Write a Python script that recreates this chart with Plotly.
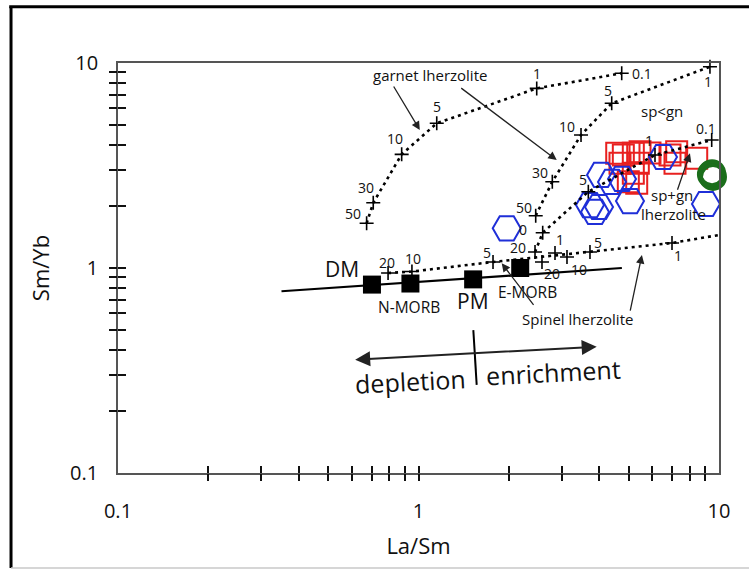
import numpy as np
import plotly.graph_objects as go

FONT = "Open Sans"

# ---------------- data ----------------
axis_tickvals = [0.1, 1, 10]
axis_ticktext = ["0.1", "1", "10"]
log_minor_vals = [0.2, 0.3, 0.4, 0.5, 0.6, 0.7, 0.8, 0.9, 1,
                  2, 3, 4, 5, 6, 7, 8, 9]

reservoir_names = ["DM", "N-MORB", "PM", "E-MORB"]
reservoir_la_sm = [0.70, 0.94, 1.52, 2.18]
reservoir_sm_yb = [0.83, 0.84, 0.88, 1.00]

mantle_array_la_sm = [0.35, 4.75]
mantle_array_sm_yb = [0.77, 1.00]

# garnet lherzolite melting curve (DM source)
gt_dm_la_sm = [0.672, 0.707, 0.879, 1.15, 2.474, 4.745]
gt_dm_sm_yb = [1.652, 2.08, 3.585, 5.08, 7.52, 8.91]
gt_dm_labels = ["50", "30", "10", "5", "1", "0.1"]

# garnet lherzolite melting curve (enriched source, sp<gn)
gt_pm_la_sm = [2.455, 2.788, 3.474, 4.395, 9.33]
gt_pm_sm_yb = [1.799, 2.636, 4.456, 6.36, 9.59]
gt_pm_labels = ["50", "30", "10", "5", "1"]

# sp+gn lherzolite melting curve
spgn_la_sm = [2.442, 2.59, 3.674, 6.124, 9.456]
spgn_sm_yb = [1.197, 1.486, 2.356, 3.557, 4.21]
spgn_labels = ["20", "0", "5", "1", "0.1"]

# spinel lherzolite melting curve
sp_la_sm = [0.792, 0.951, 1.770, 6.976, 10.0]
sp_sm_yb = [0.945, 0.961, 1.070, 1.324, 1.449]
sp_labels = ["20", "10", "5", "1", ""]

# spinel lherzolite (E-MORB source) melt ticks
sp2_la_sm = [2.576, 2.846, 3.12, 3.721]
sp2_sm_yb = [1.070, 1.184, 1.132, 1.197]
sp2_labels = ["20", "1", "10", "5"]

# samples
red_la_sm = [4.804, 4.683, 5.186, 5.46, 5.389, 5.186, 5.323, 4.991,
             6.869, 7.231, 8.43, 7.138, 4.567, 5.893]
red_sm_yb = [3.557, 3.242, 3.626, 3.692, 3.242, 2.897, 2.589, 2.636,
             3.557, 3.692, 3.428, 3.242, 3.626, 3.639]

blue_la_sm = [1.966, 4.049, 4.405, 4.756, 3.721, 3.867, 3.988, 5.056,
              6.51, 9.05]
blue_sm_yb = [1.562, 2.843, 2.628, 2.718, 2.029, 1.876, 1.984, 2.122,
              3.479, 2.052]

green_la_sm = [9.40, 9.55, 9.48]
green_sm_yb = [2.86, 2.78, 2.90]

# ---------------- label offsets (pixels, style only) ----------------
gt_dm_off = [(-14, -10), (-7, -15), (-7, -16), (0, -17), (0, -15), (20, 0)]
gt_pm_off = [(-12, -8), (-12, -9), (-14, -8), (-4, -13), (-2, 15)]
spgn_off = [(-17, -4), (-20, -3), (-5, -12), (-6, -15), (-6, -12)]
sp_off = [(-1, -11), (1, -13), (-6, -9), (6, 12), (0, 0)]
sp2_off = [(10, 12), (5, -13), (12, 13), (8, -9)]

fig = go.Figure()

# empty traces so the overlaid tick axes are drawn
for xa, ya in [("x2", "y"), ("x3", "y"), ("x", "y2"), ("x", "y3")]:
    fig.add_trace(go.Scatter(x=[], y=[], xaxis=xa, yaxis=ya, mode="markers",
                             hoverinfo="skip"))

# samples
fig.add_trace(go.Scatter(x=red_la_sm, y=red_sm_yb, mode="markers",
                         marker=dict(symbol="square-open", size=21, color="#e8201f",
                                     line=dict(width=2, color="#e8201f")),
                         cliponaxis=False, hoverinfo="skip"))
fig.add_trace(go.Scatter(x=blue_la_sm, y=blue_sm_yb, mode="markers",
                         marker=dict(symbol="hexagon2-open", size=28, color="#1f2fd8",
                                     line=dict(width=2, color="#1f2fd8")),
                         cliponaxis=False, hoverinfo="skip"))
fig.add_trace(go.Scatter(x=green_la_sm, y=green_sm_yb, mode="markers",
                         marker=dict(symbol="circle-open", size=24, color="#1b6e1b",
                                     line=dict(width=4, color="#1b6e1b")),
                         cliponaxis=False, hoverinfo="skip"))

# mantle array
fig.add_trace(go.Scatter(x=mantle_array_la_sm, y=mantle_array_sm_yb, mode="lines",
                         line=dict(color="black", width=2.2), hoverinfo="skip"))

dotted = dict(color="black", width=2.6, dash="3px,4px")
for xs, ys in [(gt_dm_la_sm, gt_dm_sm_yb), (gt_pm_la_sm, gt_pm_sm_yb),
               (spgn_la_sm, spgn_sm_yb), (sp_la_sm, sp_sm_yb)]:
    fig.add_trace(go.Scatter(x=xs, y=ys, mode="lines", line=dotted,
                             cliponaxis=False, hoverinfo="skip"))

# reservoirs
fig.add_trace(go.Scatter(x=reservoir_la_sm, y=reservoir_sm_yb, mode="markers",
                         marker=dict(symbol="square", size=18, color="black"),
                         hoverinfo="skip"))

# melt-fraction ticks
plus_x, plus_y = [], []
for xs, ys, labs in [(gt_dm_la_sm, gt_dm_sm_yb, gt_dm_labels),
                     (gt_pm_la_sm, gt_pm_sm_yb, gt_pm_labels),
                     (spgn_la_sm, spgn_sm_yb, spgn_labels),
                     (sp_la_sm, sp_sm_yb, sp_labels),
                     (sp2_la_sm, sp2_sm_yb, sp2_labels)]:
    for x, y, l in zip(xs, ys, labs):
        if l != "":
            plus_x.append(x)
            plus_y.append(y)
fig.add_trace(go.Scatter(x=plus_x, y=plus_y, mode="markers",
                         marker=dict(symbol="cross-thin-open", size=10, color="black",
                                     line=dict(width=1.6, color="black")),
                         cliponaxis=False, hoverinfo="skip"))

# depletion / enrichment divider
divider_la_sm = [1.522, 1.562]
divider_sm_yb = [0.498, 0.269]
fig.add_trace(go.Scatter(x=divider_la_sm, y=divider_sm_yb, mode="lines",
                         line=dict(color="black", width=2), hoverinfo="skip"))


def lg(v):
    return float(np.log10(v))


def txt(x, y, text, dx=0, dy=0, size=14, anchor="center", angle=0):
    fig.add_annotation(x=lg(x), y=lg(y), text=text, showarrow=False,
                       xshift=dx, yshift=-dy, xanchor=anchor, yanchor="middle",
                       textangle=angle,
                       font=dict(family=FONT, size=size, color="#111"))


for xs, ys, labs, offs in [(gt_dm_la_sm, gt_dm_sm_yb, gt_dm_labels, gt_dm_off),
                           (gt_pm_la_sm, gt_pm_sm_yb, gt_pm_labels, gt_pm_off),
                           (spgn_la_sm, spgn_sm_yb, spgn_labels, spgn_off),
                           (sp_la_sm, sp_sm_yb, sp_labels, sp_off),
                           (sp2_la_sm, sp2_sm_yb, sp2_labels, sp2_off)]:
    for x, y, l, (dx, dy) in zip(xs, ys, labs, offs):
        if l == "":
            continue
        if l == "0.1" and dx > 10:
            txt(x, y, l, dx - 12, dy, anchor="left")
        else:
            txt(x, y, l, dx, dy)

# reservoir labels
txt(0.555, 0.989, "DM", size=21)
txt(0.93, 0.642, "N-MORB", size=15.5)
txt(1.518, 0.687, "PM", size=21)
txt(2.305, 0.768, "E-MORB", size=15.5)

# curve names
txt(1.092, 8.74, "garnet lherzolite", size=15)
txt(6.447, 5.834, "sp&lt;gn", size=15)
txt(6.96, 2.27, "sp+gn", size=15)
txt(7.083, 1.834, "lherzolite", size=15)
txt(3.381, 0.5638, "Spinel lherzolite", size=15)

txt(0.937, 0.281, "depletion", size=25, angle=-3)
txt(2.803, 0.311, "enrichment", size=25, angle=-3)


def arrow(hx, hy, ax, ay, **kw):
    d = dict(x=lg(hx), y=lg(hy), ax=ax, ay=ay, text="", showarrow=True,
             arrowhead=2, arrowsize=1.3, arrowwidth=1.3, arrowcolor="#222",
             standoff=0, startstandoff=0)
    d.update(kw)
    fig.add_annotation(**d)


arrow(1.01, 4.71, -27, -45)
arrow(2.884, 3.364, -97, -73)
arrow(5.54, 1.157, -12, 57)
arrow(1.892, 1.054, 33, 43)
arrow(8.006, 3.626, -13, 38)
arrow(3.917, 0.4131, -243, 13, arrowside="end+start", arrowhead=2,
      startarrowhead=2, arrowsize=1.5, startarrowsize=1.5, arrowwidth=2)

# outer frame of the original figure
fig.add_shape(type="line", xref="paper", yref="paper", x0=-0.178, x1=-0.178,
              y0=-0.232, y1=1.137, line=dict(color="black", width=3))
fig.add_shape(type="line", xref="paper", yref="paper", x0=-0.181, x1=1.08,
              y0=1.137, y1=1.137, line=dict(color="black", width=3))
fig.add_shape(type="line", xref="paper", yref="paper", x0=-0.178, x1=1.08,
              y0=-0.232, y1=-0.232, line=dict(color="#c8c8c8", width=1.5))

tickfont = dict(family=FONT, size=20, color="#111")
common = dict(type="log", range=[-1, 1], showgrid=False, zeroline=False)

fig.update_layout(
    width=749, height=570,
    margin=dict(l=118, r=30, t=63, b=97),
    paper_bgcolor="white", plot_bgcolor="white",
    showlegend=False,
    xaxis=dict(**common, tickmode="array", tickvals=axis_tickvals,
               ticktext=axis_ticktext, ticks="", tickfont=tickfont,
               ticklabelstandoff=19,
               showline=True, linecolor="#555", linewidth=1.6, mirror=True,
               title=dict(text="La/Sm", font=dict(family=FONT, size=22, color="#111"),
                          standoff=16)),
    yaxis=dict(**common, tickmode="array", tickvals=axis_tickvals,
               ticktext=axis_ticktext, ticks="", tickfont=tickfont,
               ticklabelstandoff=14,
               showline=True, linecolor="#555", linewidth=1.6, mirror=True,
               title=dict(text="Sm/Yb", font=dict(family=FONT, size=22, color="#111"),
                          standoff=14)),
    xaxis2=dict(**common, overlaying="x", anchor="y", side="bottom",
                tickmode="array", tickvals=log_minor_vals, ticks="outside",
                ticklen=7, tickwidth=1.5, tickcolor="#111", showticklabels=False,
                showline=False),
    xaxis3=dict(**common, overlaying="x", anchor="y", side="bottom",
                tickmode="array", tickvals=log_minor_vals, ticks="inside",
                ticklen=7, tickwidth=1.5, tickcolor="#111", showticklabels=False,
                showline=False),
    yaxis2=dict(**common, overlaying="y", anchor="x", side="left",
                tickmode="array", tickvals=log_minor_vals, ticks="outside",
                ticklen=8, tickwidth=1.5, tickcolor="#111", showticklabels=False,
                showline=False),
    yaxis3=dict(**common, overlaying="y", anchor="x", side="left",
                tickmode="array", tickvals=log_minor_vals, ticks="inside",
                ticklen=8, tickwidth=1.5, tickcolor="#111", showticklabels=False,
                showline=False),
)

fig.write_html("out.html")
